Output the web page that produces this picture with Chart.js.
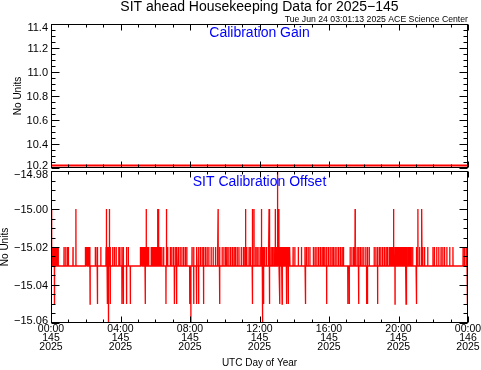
<!DOCTYPE html>
<html>
<head>
<meta charset="utf-8">
<script src="https://cdn.jsdelivr.net/npm/chart.js@4/dist/chart.umd.min.js"></script>
<style>
    html, body { margin: 0; padding: 0; background: #fff; overflow: hidden; }
    #wrap { position: relative; width: 481px; height: 370px; }
    #wrap canvas { position: absolute; left: 0; top: 0; }
</style>
</head>
<body>
<div id="wrap">
    <canvas id="gain_chart" width="481" height="370"></canvas>
    <canvas id="offset_chart" width="481" height="370"></canvas>
</div>
<script>
// Calibration gain (flat for the whole day)
const gainMinutes = [0, 1440];
const gainValues = [10.22, 10.22];

// Calibration offset: resting level and the minutes (UTC, day 145) where it jumps
const offsetBase = -15.03;
const jumpsTo1502 = [
    0, 3, 6, 9, 12, 15, 18, 21, 25, 45, 51, 57, 60, 76,
    118, 121, 124, 127, 130, 134, 153, 159, 172, 190, 194, 198, 201, 204,
    213, 219, 225, 234, 238, 245, 250, 261, 267,
    308, 311, 314, 317, 320, 323, 326, 329, 332, 335, 338,
    346, 350, 354, 357, 360, 363, 366, 369, 372, 375, 378,
    383, 389, 398, 403, 412, 417, 423, 429, 435, 440, 446, 452, 458, 464, 469,
    487, 493, 504, 510, 516, 522, 527, 533, 539, 545, 553, 560, 568, 574, 583, 591,
    597, 603, 608, 614, 620, 626, 632, 637, 643, 649, 657, 664, 669, 676, 684, 689,
    695, 701, 707, 712, 718, 724, 727, 730, 733, 738, 744, 750, 755, 760, 765, 770,
    774, 778, 781, 784, 787, 790, 793, 796, 799, 802, 805, 808, 811, 814, 817, 820,
    823, 825, 836, 842, 854, 865, 877, 882, 888, 894,
    906, 912, 918, 924, 930, 936, 941, 946, 952, 958, 964, 970, 975, 981, 987, 993,
    999, 1005, 1010, 1033, 1039, 1045, 1051, 1057, 1063, 1068, 1074, 1080, 1087, 1093, 1099,
    1116, 1122, 1128, 1134, 1139, 1145, 1151, 1157, 1162,
    1168, 1172, 1176, 1180, 1184, 1188, 1192, 1196, 1200, 1204, 1208, 1212, 1216, 1220,
    1224, 1228, 1232, 1236, 1240, 1244, 1249, 1261, 1267, 1273, 1279, 1284, 1290, 1301,
    1319, 1324, 1332, 1339, 1347, 1353, 1359, 1367, 1377, 1388, 1423, 1428, 1434, 1440
];
const jumpsTo1500 = [0, 86, 192, 202, 329, 368, 371, 400, 577, 672, 695, 701, 727, 753, 775, 787, 1050, 1182, 1267, 1281];
const jumpsTo1498 = [783];
const jumpsTo1505 = [
    12, 135, 161, 195, 205, 245, 250, 261, 274, 325, 397, 426, 433, 479, 493, 502,
    510, 527, 582, 697, 735, 755, 790, 798, 813, 819, 879, 952, 1025, 1030, 1062,
    1090, 1093, 1128, 1188, 1226, 1263, 1437
];
const jumpsTo1506 = [199, 483, 731];

// Axis labels
const gainTickLabels = ['10.2', '10.4', '10.6', '10.8', '11.0', '11.2', '11.4'];
const offsetTickLabels = ['\u221214.98', '\u221215.00', '\u221215.02', '\u221215.04', '\u221215.06'];
const hourTickLabels = ['00:00', '04:00', '08:00', '12:00', '16:00', '20:00', '00:00'];
const dayTickLabels = ['145', '145', '145', '145', '145', '145', '146'];
const yearTickLabels = ['2025', '2025', '2025', '2025', '2025', '2025', '2025'];

const FONT = '"Liberation Sans", Arial, sans-serif';

function offsetPoints() {
    const events = [];
    jumpsTo1502.forEach(t => events.push([t, -15.02]));
    jumpsTo1500.forEach(t => events.push([t, -15.00]));
    jumpsTo1498.forEach(t => events.push([t, -14.98]));
    jumpsTo1505.forEach(t => events.push([t, -15.05]));
    jumpsTo1506.forEach(t => events.push([t, -15.06]));
    events.sort((a, b) => a[0] - b[0]);
    const pts = [];
    events.forEach(([t, v]) => {
        pts.push({ x: t - 0.35, y: offsetBase });
        pts.push({ x: t, y: v });
        pts.push({ x: t + 0.35, y: offsetBase });
    });
    return pts;
}

// Box with inward ticks, labels and captions, IDL style
const idlFrame = {
    id: 'idlFrame',
    afterDraw(chart, args, o) {
        const ctx = chart.ctx;
        const a = chart.chartArea;
        const xs = chart.scales.x;
        const ys = chart.scales.y;
        const L = Math.round(a.left) + 0.5, R = Math.round(a.right) - 0.5;
        const T = Math.round(a.top) + 0.5, B = Math.round(a.bottom) - 0.5;

        ctx.save();
        ctx.strokeStyle = '#000';
        ctx.lineWidth = 1;
        ctx.strokeRect(L, T, R - L, B - T);

        ctx.beginPath();
        const yn = Math.round((ys.max - ys.min) / o.yMinor);
        for (let i = 0; i <= yn; i++) {
            const y = Math.round(ys.getPixelForValue(ys.min + i * o.yMinor)) + 0.5;
            const len = i % 4 === 0 ? 8 : 4;
            ctx.moveTo(L, y); ctx.lineTo(L + len, y);
            ctx.moveTo(R, y); ctx.lineTo(R - len, y);
        }
        const xn = Math.round((xs.max - xs.min) / 60);
        for (let i = 0; i <= xn; i++) {
            const x = Math.round(xs.getPixelForValue(xs.min + i * 60)) + 0.5;
            const len = i % 4 === 0 ? 6 : 3;
            ctx.moveTo(x, B); ctx.lineTo(x, B - len);
            ctx.moveTo(x, T); ctx.lineTo(x, T + len);
        }
        ctx.stroke();

        // y tick labels
        ctx.fillStyle = '#000';
        ctx.font = '11px ' + FONT;
        ctx.textAlign = 'right';
        ctx.textBaseline = 'middle';
        o.yLabels.forEach(s => {
            const y = ys.getPixelForValue(parseFloat(s.replace('\u2212', '-')));
            const cy = Math.min(Math.max(y + 1, a.top + 4), a.bottom - 2.5);
            ctx.fillText(s, a.left - 3, cy);
        });

        // x tick labels
        if (o.xLabels) {
            ctx.font = '10.5px ' + FONT;
            ctx.textAlign = 'center';
            hourTickLabels.forEach((s, i) => {
                const x = xs.getPixelForValue(i * 240);
                ctx.fillText(s, x, a.bottom + 6.5);
                ctx.fillText(dayTickLabels[i], x, a.bottom + 15.5);
                ctx.fillText(yearTickLabels[i], x, a.bottom + 24.5);
            });
            ctx.font = '10px ' + FONT;
            ctx.fillText('UTC Day of Year', (a.left + a.right) / 2, 363);
        }

        // y axis title
        ctx.save();
        ctx.font = '10px ' + FONT;
        ctx.textAlign = 'center';
        ctx.textBaseline = 'middle';
        ctx.translate(o.unitsX, (a.top + a.bottom) / 2);
        ctx.rotate(-Math.PI / 2);
        ctx.fillText('No Units', 0, 0);
        ctx.restore();

        // panel caption
        ctx.fillStyle = '#0000ff';
        ctx.font = '14px ' + FONT;
        ctx.textAlign = 'center';
        ctx.textBaseline = 'middle';
        ctx.fillText(o.caption, (a.left + a.right) / 2, o.captionY);

        if (o.title) {
            ctx.fillStyle = '#000';
            ctx.font = '14px ' + FONT;
            ctx.textBaseline = 'alphabetic';
            ctx.fillText(o.title, (a.left + a.right) / 2, 11);
            ctx.font = '8.7px ' + FONT;
            ctx.textAlign = 'right';
            ctx.fillText(o.stamp, 468, 22);
        }
        ctx.restore();
    }
};

function panelOptions(padTop, padBottom, yMin, yMax, frame) {
    return {
        responsive: false,
        animation: false,
        events: [],
        layout: { padding: { left: 51, right: 13, top: padTop, bottom: padBottom } },
        scales: {
            x: { type: 'linear', min: 0, max: 1440, display: false },
            y: { type: 'linear', min: yMin, max: yMax, display: false }
        },
        plugins: {
            legend: { display: false },
            tooltip: { enabled: false },
            idlFrame: frame
        }
    };
}

new Chart(document.getElementById('gain_chart'), {
    type: 'line',
    data: {
        datasets: [{
            data: gainMinutes.map((t, i) => ({ x: t, y: gainValues[i] })),
            borderColor: '#ff0000',
            borderWidth: 2,
            pointRadius: 0,
            tension: 0
        }]
    },
    options: panelOptions(24, 202, 10.2, 11.4, {
        yMinor: 0.05,
        yLabels: gainTickLabels,
        xLabels: false,
        unitsX: 18,
        caption: 'Calibration Gain',
        captionY: 33,
        title: 'SIT ahead Housekeeping Data for 2025\u2212145',
        stamp: 'Tue Jun 24 03:01:13 2025 ACE Science Center'
    }),
    plugins: [idlFrame]
});

new Chart(document.getElementById('offset_chart'), {
    type: 'line',
    data: {
        datasets: [{
            data: offsetPoints(),
            borderColor: '#ff0000',
            borderWidth: 1.3,
            pointRadius: 0,
            tension: 0
        }]
    },
    options: panelOptions(171, 47, -15.06, -14.98, {
        yMinor: 0.005,
        yLabels: offsetTickLabels,
        xLabels: true,
        unitsX: 5,
        caption: 'SIT Calibration Offset',
        captionY: 182
    }),
    plugins: [idlFrame]
});
</script>
</body>
</html>
